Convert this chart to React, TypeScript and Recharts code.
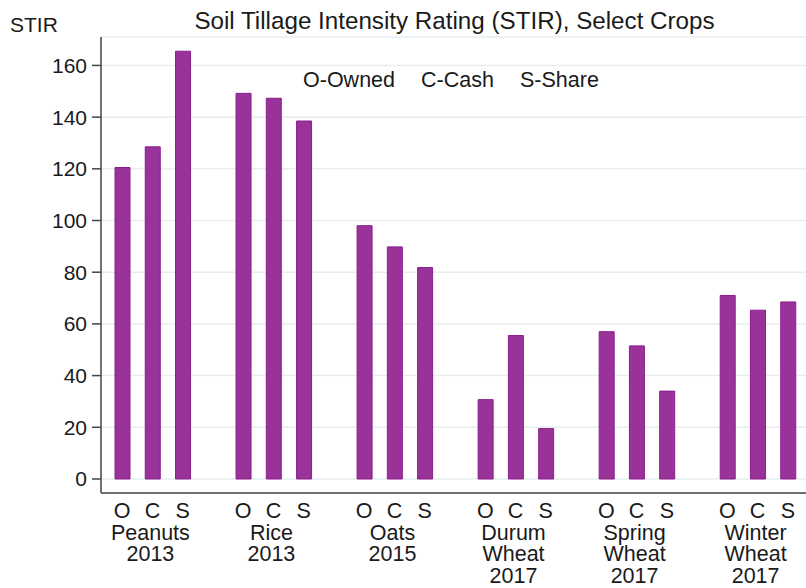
import { BarChart, Bar, XAxis, YAxis, CartesianGrid } from 'recharts'

// STIR by crop and tenure (O-Owned, C-Cash, S-Share)
const crops = [
  ['Peanuts', '2013'],
  ['Rice', '2013'],
  ['Oats', '2015'],
  ['Durum', 'Wheat', '2017'],
  ['Spring', 'Wheat', '2017'],
  ['Winter', 'Wheat', '2017'],
]
const tenures = ['O', 'C', 'S']
const owned = [120.5, 149.2, 98, 30.7, 57, 71]
const cash = [128.5, 147.3, 89.8, 55.5, 51.5, 65.3]
const share = [165.5, 138.5, 81.8, 19.5, 34, 68.5]
const yTicks = [0, 20, 40, 60, 80, 100, 120, 140, 160]

const FONT = 'Liberation Sans, Arial, sans-serif'
const INK = '#1a1a1a'

interface Slot { key: string; letter: string; crop: number; mid: boolean; stir: number | null }

// one slot per bar, with an empty slot between crop groups
const slots: Slot[] = []
crops.forEach((_, i) => {
  const vals = [owned[i], cash[i], share[i]]
  tenures.forEach((t, j) => {
    slots.push({ key: `${i}-${t}`, letter: t, crop: i, mid: j === 1, stir: vals[j] })
  })
  if (i < crops.length - 1) slots.push({ key: `gap-${i}`, letter: '', crop: -1, mid: false, stir: null })
})

function SlotTick(props: any) {
  const { x, y, payload } = props
  const slot = slots.find((s) => s.key === payload.value)
  if (!slot || !slot.letter) return null
  return (
    <g>
      <text x={x} y={y + 25} textAnchor="middle" fontSize={21.5} fill={INK} fontFamily={FONT}>{slot.letter}</text>
      {slot.mid && crops[slot.crop].map((line, k) => (
        <text key={k} x={x - 2} y={y + 46.5 + k * 21.5} textAnchor="middle" fontSize={21.5} fill={INK} fontFamily={FONT}>
          {line}
        </text>
      ))}
    </g>
  )
}

export default function App() {
  return (
    <div style={{ position: 'absolute', left: 0, top: 0, width: 806, height: 588, background: '#fff' }}>
      <BarChart width={806} height={588} data={slots} margin={{ top: 37, right: 0, bottom: 0, left: 0 }} barSize={15}>
        <CartesianGrid vertical={false} stroke="#e6edf1" strokeWidth={1.5} />
        <XAxis
          dataKey="key"
          interval={0}
          height={95}
          tickSize={0}
          tickMargin={0}
          tickLine={false}
          axisLine={{ stroke: '#444', strokeWidth: 1.5 }}
          padding={{ left: 6, right: 3 }}
          tick={<SlotTick />}
        />
        <YAxis
          width={101}
          type="number"
          domain={[-5.42, 171]}
          ticks={yTicks}
          allowDataOverflow
          tickSize={9}
          tickMargin={5}
          axisLine={{ stroke: '#444', strokeWidth: 1.5 }}
          tickLine={{ stroke: '#444', strokeWidth: 1.5 }}
          tick={{ fontSize: 21, fill: INK, fontFamily: FONT }}
        />
        <Bar dataKey="stir" fill="#993399" stroke="#8c1e8c" strokeWidth={1} isAnimationActive={false} />
      </BarChart>
      <svg width={806} height={588} style={{ position: 'absolute', left: 0, top: 0, pointerEvents: 'none' }}>
        <text x={454.5} y={29} textAnchor="middle" fontSize={24.2} fill={INK} fontFamily={FONT}>
          Soil Tillage Intensity Rating (STIR), Select Crops
        </text>
        <text x={10} y={32} fontSize={21} fill={INK} fontFamily={FONT}>STIR</text>
        <text x={303} y={86.5} fontSize={21.5} fill={INK} fontFamily={FONT}>O-Owned</text>
        <text x={421} y={86.5} fontSize={21.5} fill={INK} fontFamily={FONT}>C-Cash</text>
        <text x={520} y={86.5} fontSize={21.5} fill={INK} fontFamily={FONT}>S-Share</text>
      </svg>
    </div>
  )
}
